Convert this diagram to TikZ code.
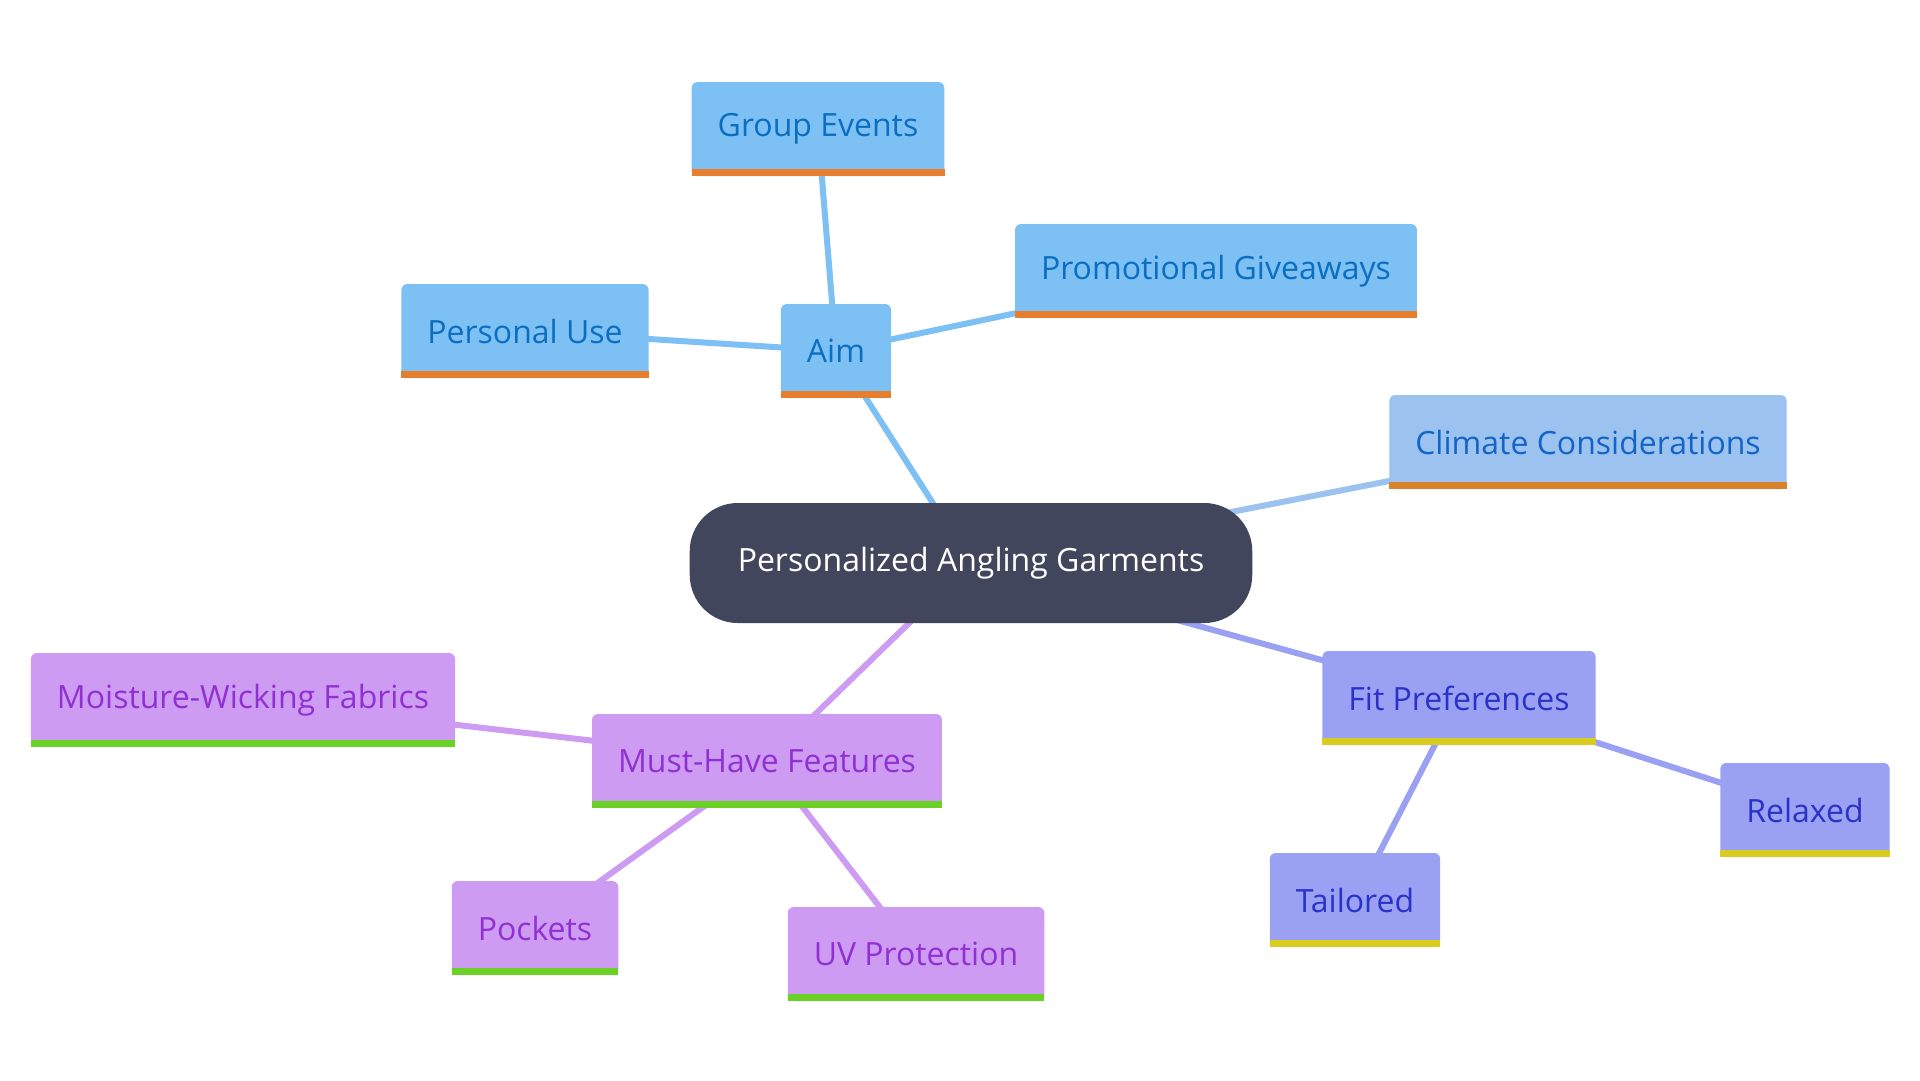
\documentclass[tikz,border=0pt]{standalone}
\usepackage{fontspec}
\setmainfont{Open Sans}

\definecolor{hubfill}{HTML}{41465C}
\definecolor{aimfill}{HTML}{7DC0F3}
\definecolor{aimtext}{HTML}{0B6EC0}
\definecolor{aimbar}{HTML}{E67E2E}
\definecolor{ccfill}{HTML}{9CC3EF}
\definecolor{cctext}{HTML}{1464C8}
\definecolor{ccbar}{HTML}{D9822B}
\definecolor{fitfill}{HTML}{9AA0F2}
\definecolor{fittext}{HTML}{2A32C8}
\definecolor{fitbar}{HTML}{D8CC20}
\definecolor{mhffill}{HTML}{CE9BF2}
\definecolor{mhftext}{HTML}{9130D2}
\definecolor{mhfbar}{HTML}{6BD124}

\pgfdeclarelayer{bg}
\pgfsetlayers{bg,main}

\begin{document}
\begin{tikzpicture}[x=1pt,y=-1pt,
    box/.style={rounded corners=6pt, inner xsep=26pt, minimum height=94pt,
      font=\fontsize{32}{38}\selectfont},
    hubbox/.style={box, rounded corners=48pt, inner xsep=48pt, minimum height=120pt,
      fill=hubfill, text=white},
    aimbox/.style={box, fill=aimfill, text=aimtext},
    ccbox/.style={box, fill=ccfill, text=cctext},
    fitbox/.style={box, fill=fitfill, text=fittext},
    mhfbox/.style={box, fill=mhffill, text=mhftext},
    link/.style={line width=6pt}]

  \node[hubbox] (pag) at (971,563) {Personalized Angling Garments};

  \node[aimbox] (aim) at (836,351) {Aim};
  \node[aimbox] (ge) at (818,129) {Group Events};
  \node[aimbox] (pg) at (1216,271) {Promotional Giveaways};
  \node[aimbox] (pu) at (525,331) {Personal Use};

  \node[ccbox] (cc) at (1588,442) {Climate Considerations};

  \node[fitbox] (fp) at (1459,698) {Fit Preferences};
  \node[fitbox] (rel) at (1805,810) {Relaxed};
  \node[fitbox] (tai) at (1355,900) {Tailored};

  \node[mhfbox] (mhf) at (767,761) {Must-Have Features};
  \node[mhfbox] (mwf) at (243,700) {Moisture-Wicking Fabrics};
  \node[mhfbox] (poc) at (535,928) {Pockets};
  \node[mhfbox] (uv) at (916,954) {UV Protection};

  % bottom bars
  \foreach \n/\c in {aim/aimbar, ge/aimbar, pg/aimbar, pu/aimbar, cc/ccbar,
      fp/fitbar, rel/fitbar, tai/fitbar, mhf/mhfbar, mwf/mhfbar, poc/mhfbar, uv/mhfbar}
    \fill[\c] (\n.south west) rectangle ([yshift=7pt]\n.south east);

  \begin{pgfonlayer}{bg}
    \fill[white] (0,0) rectangle (1920,1080);
    \draw[link, aimfill] (pag.center) -- (aim.center);
    \draw[link, aimfill] (aim.center) -- (ge.center);
    \draw[link, aimfill] (aim.center) -- (pg.center);
    \draw[link, aimfill] (aim.center) -- (pu.center);
    \draw[link, ccfill] (pag.center) -- (cc.center);
    \draw[link, fitfill] (pag.center) -- (fp.center);
    \draw[link, fitfill] (fp.center) -- (rel.center);
    \draw[link, fitfill] (fp.center) -- (tai.center);
    \draw[link, mhffill] (pag.center) -- (mhf.center);
    \draw[link, mhffill] (mhf.center) -- (mwf.center);
    \draw[link, mhffill] (mhf.center) -- (poc.center);
    \draw[link, mhffill] (mhf.center) -- (uv.center);
  \end{pgfonlayer}
\end{tikzpicture}
\end{document}
